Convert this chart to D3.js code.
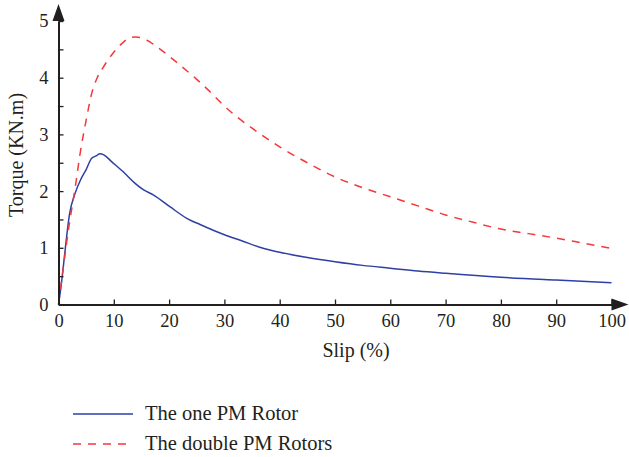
<!DOCTYPE html>
<html>
<head>
<meta charset="utf-8">
<script src="https://cdn.jsdelivr.net/npm/d3@7"></script>
<style>
  body { margin: 0; background: #fff; }
  svg text { font-family: "Liberation Serif", "Times New Roman", serif; fill: #231f20; }
</style>
</head>
<body>
<svg id="canvas" width="629" height="457"></svg>
<script>
// slip (%) values and torque (KN.m)
let oneSlip = [0, 0.6, 1.2, 2, 3, 4, 5, 6, 6.8, 7.5, 8.2, 9.6, 11.7, 13.8, 15.4, 17.2, 20.2, 23.2, 25.6, 30, 33, 36.7, 40, 45, 50, 55, 60, 65, 70, 80, 90, 100];
let oneTorque = [0, 0.43, 0.96, 1.6, 1.96, 2.2, 2.38, 2.58, 2.62, 2.66, 2.64, 2.52, 2.34, 2.14, 2.02, 1.93, 1.72, 1.52, 1.41, 1.23, 1.13, 1.0, 0.92, 0.83, 0.755, 0.69, 0.64, 0.59, 0.55, 0.48, 0.43, 0.385];

let doubleSlip = [0, 1, 2, 3, 4, 5, 6, 7, 8, 9, 10, 11, 12, 13, 14, 15, 16, 18, 20, 22, 25, 27, 30, 32, 35, 40, 45, 50, 55, 60, 65, 70, 75, 80, 85, 90, 95, 100];
let doubleTorque = [0, 0.75, 1.45, 2.05, 2.72, 3.25, 3.72, 4.0, 4.17, 4.32, 4.45, 4.56, 4.65, 4.71, 4.72, 4.70, 4.66, 4.53, 4.38, 4.22, 3.97, 3.79, 3.5, 3.33, 3.11, 2.78, 2.5, 2.25, 2.06, 1.9, 1.74, 1.58, 1.45, 1.33, 1.25, 1.17, 1.08, 0.99];

let xTicks = [0, 10, 20, 30, 40, 50, 60, 70, 80, 90, 100];
let yTicks = [0, 0.5, 1, 1.5, 2, 2.5, 3, 3.5, 4, 4.5, 5];

let seriesNames = ['The one PM Rotor', 'The double PM Rotors'];

let canvas = d3.select('#canvas');

let x = d3.scaleLinear().domain([0, 100]).range([58.5, 611.5]);
let y = d3.scaleLinear().domain([0, 5]).range([304.5, 21]);

// curves
let line = d3.line()
    .x(d => x(d[0]))
    .y(d => y(d[1]))
    .curve(d3.curveMonotoneX);

let oneData = oneSlip.map((s, i) => [s, oneTorque[i]]);
let doubleData = doubleSlip.map((s, i) => [s, doubleTorque[i]]);

canvas.append('path')
    .attr('d', line(oneData))
    .attr('fill', 'none')
    .attr('stroke', '#2e3fa6')
    .attr('stroke-width', 1.5);

canvas.append('path')
    .attr('d', line(doubleData))
    .attr('fill', 'none')
    .attr('stroke', '#f2383a')
    .attr('stroke-width', 1.5)
    .attr('stroke-dasharray', '8,7');

// axes
let xAxis = d3.axisBottom(x)
    .tickValues(xTicks)
    .tickSizeInner(-5)
    .tickSizeOuter(0)
    .tickPadding(9)
    .tickFormat(d3.format('d'));

let yAxis = d3.axisLeft(y)
    .tickValues(yTicks)
    .tickSizeInner(-5)
    .tickSizeOuter(0)
    .tickPadding(10)
    .tickFormat(d => Number.isInteger(d) ? d : '');

let gx = canvas.append('g')
    .attr('transform', 'translate(0,' + y(0) + ')')
    .call(xAxis);

let gy = canvas.append('g')
    .attr('transform', 'translate(' + x(0) + ',0)')
    .call(yAxis);

[gx, gy].forEach(g => {
    g.select('.domain').attr('stroke', '#231f20').attr('stroke-width', 2);
    g.selectAll('.tick line').attr('stroke', '#231f20').attr('stroke-width', 1.3);
    g.selectAll('.tick text').attr('font-size', 18.5).attr('font-family', '"Liberation Serif", serif').attr('fill', '#231f20');
});

// arrow heads
canvas.append('path')
    .attr('d', 'M' + (x(100)) + ',' + (y(0) - 6) + 'L' + (x(100) + 17) + ',' + y(0) + 'L' + x(100) + ',' + (y(0) + 6) + 'Z')
    .attr('fill', '#231f20');

canvas.append('path')
    .attr('d', 'M' + (x(0) - 6) + ',' + y(5) + 'L' + x(0) + ',' + (y(5) - 17) + 'L' + (x(0) + 6) + ',' + y(5) + 'Z')
    .attr('fill', '#231f20');

// axis titles
canvas.append('text')
    .attr('x', 356)
    .attr('y', 357)
    .attr('text-anchor', 'middle')
    .attr('font-size', 20)
    .text('Slip (%)');

canvas.append('text')
    .attr('transform', 'translate(23,155) rotate(-90)')
    .attr('text-anchor', 'middle')
    .attr('font-size', 20)
    .text('Torque (KN.m)');

// legend
let legend = canvas.append('g');
let legendY = [414, 444];
let legendStyle = [
    { color: '#2e3fa6', dash: null },
    { color: '#f2383a', dash: '8,7' }
];

seriesNames.forEach((name, i) => {
    legend.append('line')
        .attr('x1', 73).attr('x2', 133)
        .attr('y1', legendY[i]).attr('y2', legendY[i])
        .attr('stroke', legendStyle[i].color)
        .attr('stroke-width', 1.5)
        .attr('stroke-dasharray', legendStyle[i].dash);
    legend.append('text')
        .attr('x', 145)
        .attr('y', legendY[i] + 6)
        .attr('font-size', 20.5)
        .text(name);
});
</script>
</body>
</html>
